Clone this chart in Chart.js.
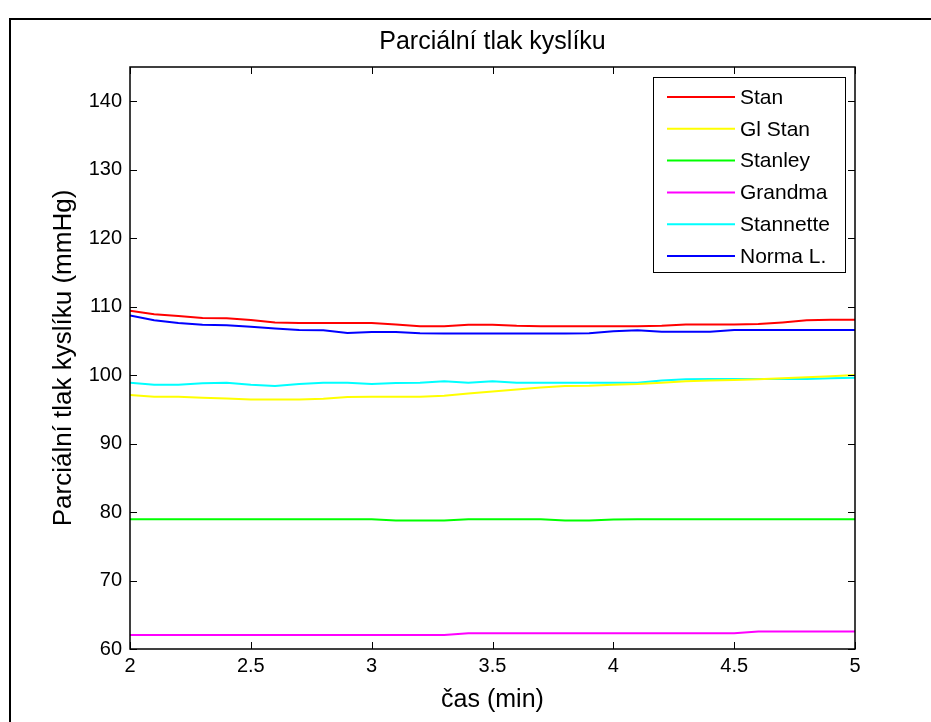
<!DOCTYPE html>
<html>
<head>
<meta charset="utf-8">
<script src="https://cdn.jsdelivr.net/npm/chart.js@4.4.0/dist/chart.umd.min.js"></script>
<style>
  html, body { margin: 0; padding: 0; background: #fff; }
</style>
</head>
<body>
<canvas id="o2Chart" width="931" height="722"></canvas>
<script>
// Data
const times = [2.0, 2.1, 2.2, 2.3, 2.4, 2.5, 2.6, 2.7, 2.8, 2.9, 3.0, 3.1, 3.2, 3.3, 3.4, 3.5,
               3.6, 3.7, 3.8, 3.9, 4.0, 4.1, 4.2, 4.3, 4.4, 4.5, 4.6, 4.7, 4.8, 4.9, 5.0];
const stan = [109.4, 108.9, 108.65, 108.35, 108.3, 108.05, 107.7, 107.6, 107.6, 107.6, 107.6, 107.4,
              107.15, 107.15, 107.35, 107.35, 107.2, 107.15, 107.15, 107.15, 107.15, 107.15, 107.2,
              107.4, 107.4, 107.4, 107.45, 107.7, 108.0, 108.1, 108.1];
const glStan = [97.1, 96.85, 96.85, 96.7, 96.6, 96.45, 96.45, 96.45, 96.55, 96.8, 96.84, 96.84, 96.84,
                97.0, 97.3, 97.6, 97.9, 98.2, 98.4, 98.45, 98.6, 98.7, 98.9, 99.1, 99.2, 99.3, 99.4,
                99.55, 99.7, 99.85, 100.0];
const stanley = [78.95, 78.95, 78.95, 78.95, 78.95, 78.95, 78.95, 78.95, 78.95, 78.95, 78.95, 78.75,
                 78.75, 78.75, 78.95, 78.95, 78.95, 78.95, 78.75, 78.75, 78.9, 78.95, 78.95, 78.95,
                 78.95, 78.95, 78.95, 78.95, 78.95, 78.95, 78.95];
const grandma = [62.05, 62.05, 62.05, 62.05, 62.05, 62.05, 62.05, 62.05, 62.05, 62.05, 62.05, 62.05,
                 62.05, 62.05, 62.3, 62.3, 62.3, 62.3, 62.3, 62.3, 62.3, 62.3, 62.3, 62.3, 62.3, 62.3,
                 62.55, 62.55, 62.55, 62.55, 62.55];
const stannette = [98.9, 98.6, 98.6, 98.8, 98.9, 98.6, 98.4, 98.7, 98.9, 98.9, 98.7, 98.85, 98.9, 99.1,
                   98.9, 99.1, 98.9, 98.9, 98.9, 98.9, 98.9, 98.9, 99.2, 99.4, 99.42, 99.42, 99.42,
                   99.42, 99.42, 99.55, 99.6];
const normaL = [108.7, 108.0, 107.6, 107.35, 107.3, 107.05, 106.8, 106.6, 106.55, 106.15, 106.3, 106.3,
                106.1, 106.07, 106.07, 106.07, 106.07, 106.07, 106.07, 106.1, 106.4, 106.55, 106.35,
                106.32, 106.35, 106.6, 106.6, 106.6, 106.6, 106.6, 106.6];
const seriesNames = ['Stan', 'Gl Stan', 'Stanley', 'Grandma', 'Stannette', 'Norma L.'];
const seriesColors = ['#ff0000', '#ffff00', '#00ff00', '#ff00ff', '#00ffff', '#0000ff'];
const xTicks = [2, 2.5, 3, 3.5, 4, 4.5, 5];
const yTicks = [60, 70, 80, 90, 100, 110, 120, 130, 140];
const chartTitle = 'Parciální tlak kyslíku';

const FONT = 'Liberation Sans, Arial, Helvetica, sans-serif';

function toPoints(values) {
    return values.map((v, i) => ({ x: times[i], y: v }));
}

// Rámeček, titulek nad osami, tiky dovnitř a legenda v rohu (styl MATLAB)
const matlabFrame = {
    id: 'matlabFrame',
    beforeDraw(chart) {
        const ctx = chart.ctx;
        const a = chart.chartArea;
        ctx.save();
        ctx.fillStyle = '#fff';
        ctx.fillRect(0, 0, chart.width, chart.height);
        ctx.strokeStyle = '#000';
        ctx.lineWidth = 2;
        ctx.beginPath();
        ctx.moveTo(10, chart.height + 5);
        ctx.lineTo(10, 19);
        ctx.lineTo(chart.width + 5, 19);
        ctx.stroke();

        ctx.fillStyle = '#000';
        ctx.font = '25px ' + FONT;
        ctx.textAlign = 'center';
        ctx.textBaseline = 'middle';
        ctx.fillText(chartTitle, (a.left + a.right) / 2, 42);
        ctx.restore();
    },
    afterDatasetsDraw(chart) {
        const { ctx, chartArea: a, scales: { x, y } } = chart;
        ctx.save();
        ctx.strokeStyle = '#000';
        ctx.lineWidth = 1.5;
        ctx.strokeRect(a.left, a.top, a.right - a.left, a.bottom - a.top);

        ctx.lineWidth = 1;
        ctx.beginPath();
        yTicks.forEach(v => {
            const py = Math.round(y.getPixelForValue(v)) + 0.5;
            ctx.moveTo(a.left, py); ctx.lineTo(a.left + 7, py);
            ctx.moveTo(a.right, py); ctx.lineTo(a.right - 7, py);
        });
        xTicks.forEach(v => {
            const px = Math.round(x.getPixelForValue(v)) + 0.5;
            ctx.moveTo(px, a.bottom); ctx.lineTo(px, a.bottom - 7);
            ctx.moveTo(px, a.top); ctx.lineTo(px, a.top + 7);
        });
        ctx.stroke();

        // legenda
        const box = { left: a.right - 202, top: a.top + 10, width: 192, height: 195 };
        ctx.fillStyle = '#fff';
        ctx.fillRect(box.left, box.top, box.width, box.height);
        ctx.strokeStyle = '#000';
        ctx.lineWidth = 1;
        ctx.strokeRect(box.left + 0.5, box.top + 0.5, box.width, box.height);
        ctx.font = '21px ' + FONT;
        ctx.textBaseline = 'middle';
        ctx.textAlign = 'left';
        chart.data.datasets.forEach((ds, i) => {
            const ly = box.top + 20 + i * 31.8;
            ctx.strokeStyle = ds.borderColor;
            ctx.lineWidth = 2;
            ctx.beginPath();
            ctx.moveTo(box.left + 14, ly);
            ctx.lineTo(box.left + 82, ly);
            ctx.stroke();
            ctx.fillStyle = '#000';
            ctx.fillText(ds.label, box.left + 87, ly + 1);
        });
        ctx.restore();
    }
};

const allSeries = [stan, glStan, stanley, grandma, stannette, normaL];

const ctx = document.getElementById('o2Chart').getContext('2d');
const o2Chart = new Chart(ctx, {
    type: 'line',
    data: {
        datasets: allSeries.map((values, i) => ({
            label: seriesNames[i],
            data: toPoints(values),
            borderColor: seriesColors[i],
            backgroundColor: seriesColors[i],
            borderWidth: 2,
            pointRadius: 0,
            tension: 0,
            fill: false
        }))
    },
    options: {
        responsive: false,
        animation: false,
        devicePixelRatio: 1,
        layout: { padding: { left: 0, right: 76, top: 67, bottom: 0 } },
        plugins: {
            legend: { display: false },
            tooltip: { enabled: false },
            title: { display: false }
        },
        scales: {
            x: {
                type: 'linear',
                min: 2,
                max: 5,
                afterBuildTicks: s => { s.ticks = xTicks.map(v => ({ value: v })); },
                afterFit: s => { s.height = 73; },
                grid: { display: false, drawTicks: false },
                border: { display: false },
                ticks: {
                    color: '#000',
                    font: { family: FONT, size: 20 },
                    padding: 5,
                    maxRotation: 0,
                    autoSkip: false,
                    callback: v => String(v)
                },
                title: {
                    display: true,
                    text: 'čas (min)',
                    color: '#000',
                    font: { family: FONT, size: 25 },
                    padding: { top: 0, bottom: 7 }
                }
            },
            y: {
                min: 60,
                max: 145,
                afterBuildTicks: s => { s.ticks = yTicks.map(v => ({ value: v })); },
                afterFit: s => { s.width = 130; },
                grid: { display: false, drawTicks: false },
                border: { display: false },
                ticks: {
                    color: '#000',
                    font: { family: FONT, size: 20 },
                    padding: 8,
                    autoSkip: false,
                    callback: v => String(v)
                },
                title: {
                    display: true,
                    text: 'Parciální tlak kyslíku (mmHg)',
                    color: '#000',
                    font: { family: FONT, size: 26 },
                    padding: { top: 48, bottom: 0 }
                }
            }
        }
    },
    plugins: [matlabFrame]
});
</script>
</body>
</html>
